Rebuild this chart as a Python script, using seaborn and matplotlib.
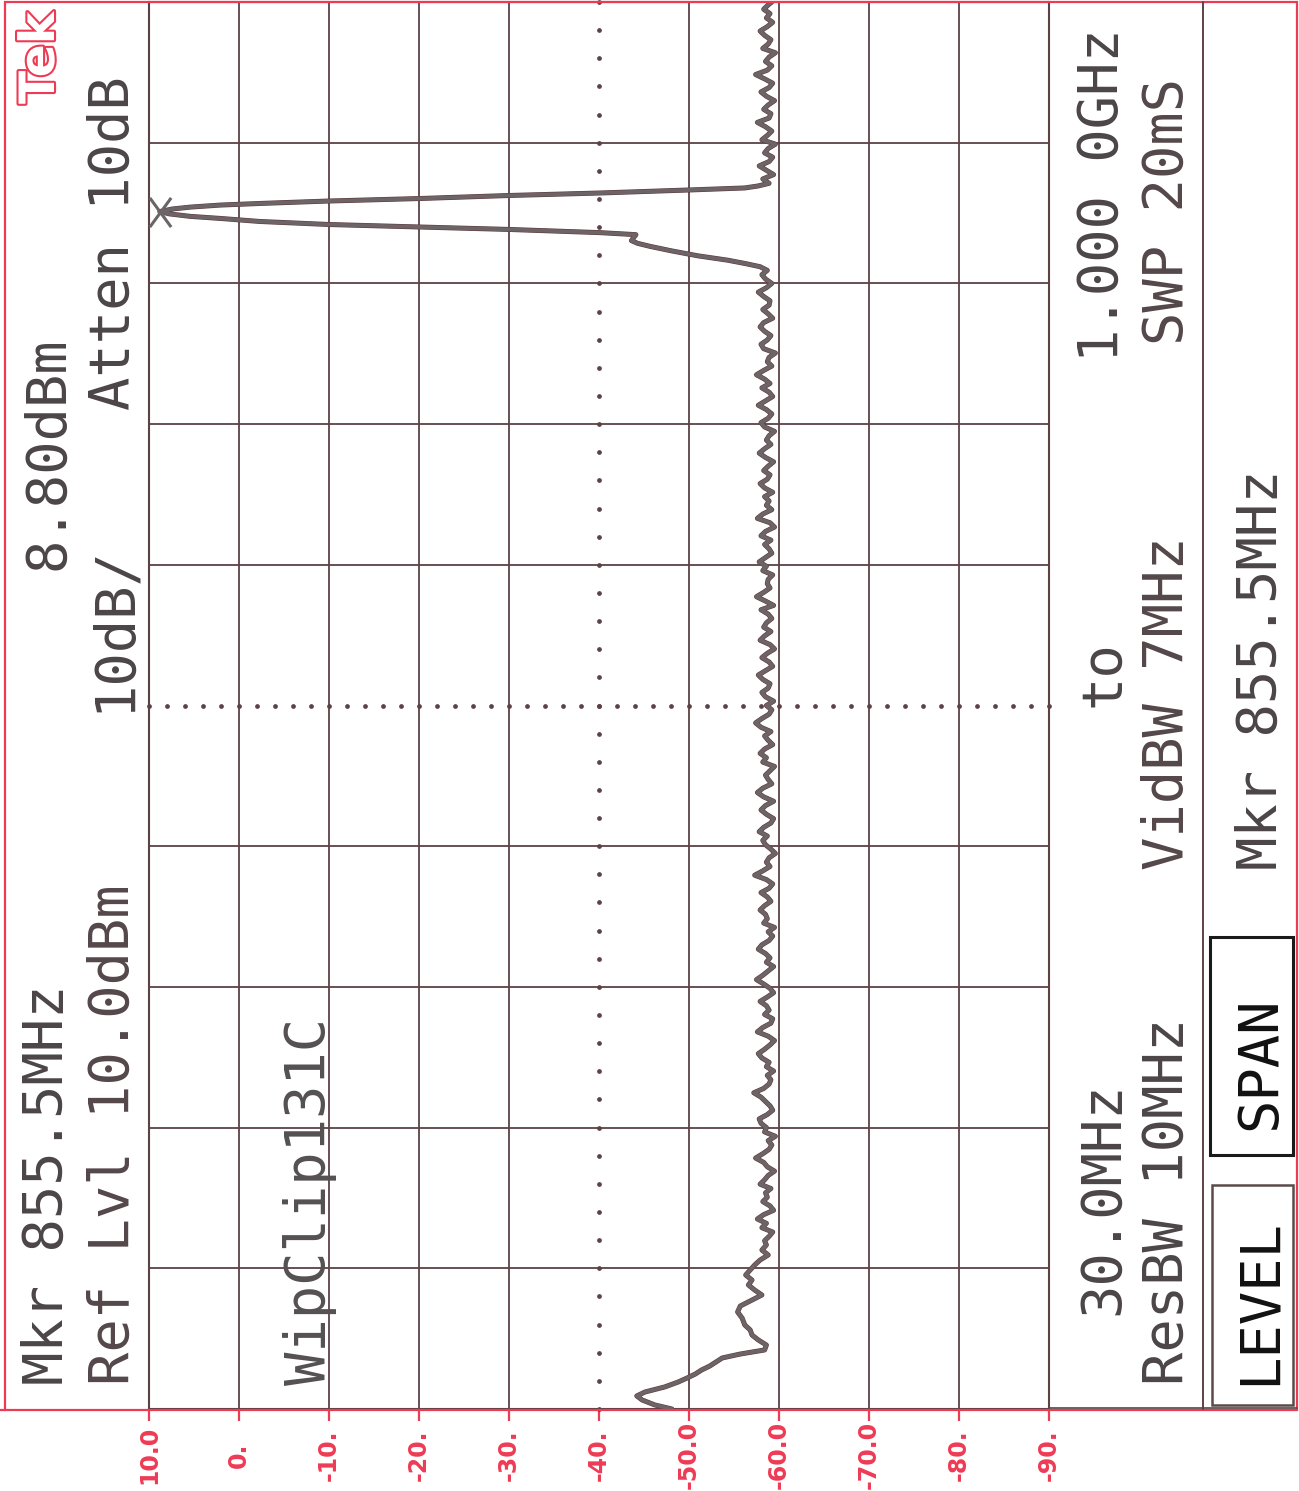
import numpy as np
import pandas as pd
import matplotlib
matplotlib.use("Agg")
import matplotlib.pyplot as plt
import seaborn as sns
from matplotlib.lines import Line2D
from matplotlib.patches import Rectangle
from matplotlib.path import Path
import matplotlib.patheffects as pe

# ---------------- data ----------------
freq_start_mhz = 30.0
freq_stop_mhz = 1000.0
ref_level_dbm = 10.0
bottom_level_dbm = -90.0

amp_ticks = [10, 0, -10, -20, -30, -40, -50, -60, -70, -80, -90]
amp_tick_labels = ["10.0", "0.", "-10.", "-20.", "-30.", "-40.",
                   "-50.0", "-60.0", "-70.0", "-80.", "-90."]

marker_freq_mhz = 855.5
marker_level_dbm = 8.8

# low-frequency roll-off segment
low_freq = [30.0, 32.8, 36.2, 39.0, 41.7, 45.2, 48.6, 51.4, 54.1, 56.9,
            59.6, 62.4, 65.2, 67.9, 70.7, 74.1, 77.6, 81.0, 84.5, 87.9,
            92.7, 96.9, 101.0, 105.1, 108.6, 112.0, 115.5, 118.9, 122.4, 125.8,
            129.3, 132.7, 136.2, 139.6, 143.1]
low_level = [-48.1, -46.2, -44.8, -44.2, -45.1, -47.3, -48.8, -49.8, -50.7, -51.4,
             -52.3, -53.0, -53.7, -55.7, -58.4, -58.6, -57.7, -57.0, -56.8, -56.2,
             -55.9, -55.4, -55.7, -57.0, -58.1, -57.3, -56.6, -57.0, -56.3, -56.8,
             -57.3, -57.9, -58.8, -58.1, -58.6]

# noise floor below the carrier
mid_freq = [146, 149, 152, 155, 158, 161, 164, 167, 170, 173, 176, 179, 182, 185, 188, 191,
            194, 197, 200, 203, 206, 209, 212, 215, 218, 221, 224, 227, 230, 233, 236, 239,
            242, 245, 248, 251, 254, 257, 260, 263, 266, 269, 272, 275, 278, 281, 284, 287,
            290, 293, 296, 299, 302, 305, 308, 311, 314, 317, 320, 323, 326, 329, 332, 335,
            338, 341, 344, 347, 350, 353, 356, 359, 362, 365, 368, 371, 374, 377, 380, 383,
            386, 389, 392, 395, 398, 401, 404, 407, 410, 413, 416, 419, 422, 425, 428, 431,
            434, 437, 440, 443, 446, 449, 452, 455, 458, 461, 464, 467, 470, 473, 476, 479,
            482, 485, 488, 491, 494, 497, 500, 503, 506, 509, 512, 515, 518, 521, 524, 527,
            530, 533, 536, 539, 542, 545, 548, 551, 554, 557, 560, 563, 566, 569, 572, 575,
            578, 581, 584, 587, 590, 593, 596, 599, 602, 605, 608, 611, 614, 617, 620, 623,
            626, 629, 632, 635, 638, 641, 644, 647, 650, 653, 656, 659, 662, 665, 668, 671,
            674, 677, 680, 683, 686, 689, 692, 695, 698, 701, 704, 707, 710, 713, 716, 719,
            722, 725, 728, 731, 734, 737, 740, 743, 746, 749, 752, 755, 758, 761, 764, 767,
            770, 773, 776, 779, 782, 785, 788, 791, 794, 797, 800, 803, 806, 809, 812, 815]
mid_level = [-58.4, -58.9, -59.3, -58.1, -58.6, -57.6, -58.3, -59.4, -59.0, -58.2, -58.7, -58.5, -59.1, -57.9, -58.4, -58.8,
             -59.5, -58.7, -58.3, -57.4, -58.2, -58.9, -59.2, -58.8, -59.6, -58.4, -58.6, -58.0, -57.8, -58.7, -59.3, -59.0,
             -58.5, -58.0, -57.2, -58.3, -58.9, -59.1, -58.7, -59.4, -58.6, -58.9, -58.1, -57.7, -58.4, -59.0, -59.5, -58.8,
             -57.6, -58.2, -59.1, -59.3, -58.4, -58.9, -58.6, -57.9, -58.7, -59.4, -59.0, -58.3, -57.5, -58.2, -58.8, -59.4,
             -58.6, -59.0, -58.5, -57.7, -58.1, -58.9, -59.3, -58.8, -59.5, -58.3, -58.7, -58.5, -57.9, -58.4, -59.1, -58.7,
             -58.0, -58.9, -59.3, -58.6, -57.3, -58.2, -59.0, -58.6, -58.9, -59.6, -59.1, -58.5, -58.2, -58.7, -57.8, -58.3,
             -59.1, -59.4, -58.6, -58.0, -58.5, -59.4, -58.3, -57.6, -58.2, -59.2, -58.8, -58.5, -59.0, -59.5, -58.2, -58.6,
             -57.9, -58.4, -59.3, -58.8, -58.4, -59.1, -58.0, -57.4, -58.1, -58.9, -59.2, -58.6, -59.4, -58.5, -58.1, -58.8,
             -59.0, -58.2, -57.7, -58.5, -59.3, -58.9, -58.1, -58.7, -59.5, -59.0, -57.9, -58.4, -59.1, -58.3, -58.6, -59.2,
             -58.8, -58.0, -59.4, -58.5, -57.5, -58.3, -59.0, -58.7, -58.8, -59.3, -58.2, -58.6, -57.8, -58.5, -59.2, -58.9,
             -58.4, -59.1, -58.0, -58.5, -59.5, -59.0, -57.6, -58.2, -59.2, -58.6, -58.9, -58.4, -59.3, -58.4, -57.9, -58.7,
             -59.0, -58.3, -58.8, -59.4, -58.5, -57.8, -58.4, -59.1, -58.6, -58.9, -59.5, -58.4, -58.0, -58.8, -59.2, -58.6,
             -57.7, -58.5, -59.3, -58.9, -58.1, -59.0, -58.4, -57.5, -58.3, -59.2, -58.7, -58.9, -59.6, -58.3, -58.0, -58.7,
             -59.1, -58.4, -57.9, -58.3, -59.3, -58.8, -58.2, -58.9, -59.0, -58.3, -57.7, -58.6, -59.2, -58.5, -58.1, -58.7]

# carrier at 855.5 MHz
peak_freq = [817.5, 819.5, 822.0, 825.0, 828.5, 831.5, 833.6, 835.5, 839.6, 841.0,
             843.2, 844.9, 846.6, 848.7, 850.8, 852.2, 853.9, 855.5, 857.3, 858.6,
             860.0, 861.1, 862.8, 864.5, 866.6, 868.3, 870.4, 871.8, 873.2]
peak_level = [-57.9, -56.4, -54.3, -51.0, -48.0, -45.7, -44.3, -43.6, -44.1, -40.1,
              -30.0, -20.0, -10.0, -2.3, 2.1, 5.4, 7.7, 8.8, 7.4, 5.4,
              2.1, -2.3, -10.0, -20.0, -30.0, -40.0, -50.0, -56.2, -57.7]

# noise floor above the carrier
high_freq = [875, 878, 881, 884, 887, 890, 893, 896, 899, 902, 905, 908, 911, 914, 917, 920,
             923, 926, 929, 932, 935, 938, 941, 944, 947, 950, 953, 956, 959, 962, 965, 968,
             971, 974, 977, 980, 983, 986, 989, 992, 995, 998, 1000]
high_level = [-58.9, -58.2, -59.4, -58.6, -57.8, -58.9, -59.3, -58.4, -58.8, -59.6, -58.1, -58.7, -59.2, -58.5, -57.6, -58.9,
              -59.1, -58.3, -58.8, -59.5, -58.6, -58.0, -58.9, -59.3, -58.4, -57.4, -58.7, -59.2, -58.5, -58.9, -59.6, -58.2,
              -58.8, -59.1, -58.4, -57.9, -58.7, -59.3, -58.6, -59.0, -58.3, -58.8, -59.2]

trace = pd.DataFrame({
    "freq": low_freq + mid_freq + peak_freq + high_freq,
    "level": low_level + mid_level + peak_level + high_level,
})

# ---------------- styling ----------------
sns.set_theme(style="white")
plt.rcParams['font.family'] = ['DejaVu Sans']

RED = "#ee3b55"
GRID = "#5b4245"
TRACE = "#6c6466"
TXT = "#4b4547"
MONO = "DejaVu Sans Mono"

W, H = 1299, 1491
fig = plt.figure(figsize=(W / 100, H / 100), dpi=100)
fig.patch.set_facecolor("white")


def fx(px):
    return px / W


def fy(py):
    return 1 - py / H


ax = fig.add_axes([fx(149), fy(1409), fx(1049) - fx(149), fy(2) - fy(1409)])
ax.set_facecolor("white")
ax.set_xlim(ref_level_dbm, bottom_level_dbm)
ax.set_ylim(freq_start_mhz, freq_stop_mhz)

# graticule
freq_div = (freq_stop_mhz - freq_start_mhz) / 10
centre_amp = (ref_level_dbm + bottom_level_dbm) / 2
centre_freq = (freq_start_mhz + freq_stop_mhz) / 2
for a in amp_ticks:
    if a != centre_amp:
        ax.axvline(a, color=GRID, lw=1.3, zorder=1)
for k in range(11):
    fq = freq_start_mhz + k * freq_div
    if abs(fq - centre_freq) > 1e-6:
        ax.axhline(fq, color=GRID, lw=1.3, zorder=1)
dots_amp = np.linspace(ref_level_dbm, bottom_level_dbm, 51)
dots_freq = np.linspace(freq_start_mhz, freq_stop_mhz, 51)
ax.plot(dots_amp, np.full_like(dots_amp, centre_freq), ls="none", marker="o",
        ms=2.4, color=GRID, zorder=1, clip_on=False)
ax.plot(np.full_like(dots_freq, centre_amp), dots_freq, ls="none", marker="o",
        ms=2.4, color=GRID, zorder=1, clip_on=False)

# trace
sns.lineplot(data=trace, x="level", y="freq", sort=False, estimator=None,
             color=TRACE, lw=2.8, ax=ax, zorder=3,
             path_effects=[pe.Stroke(linewidth=3.6, foreground="#5e3a3e"), pe.Normal()])

# marker X at the peak
xmark = Path([(-0.73, -1), (0.73, 1), (-0.73, 1), (0.73, -1)],
             [Path.MOVETO, Path.LINETO, Path.MOVETO, Path.LINETO])
ax.plot([marker_level_dbm], [marker_freq_mhz], marker=xmark, ms=21, mew=2.2,
        mec=TRACE, ls="none", zorder=4, clip_on=False)

# axes decoration
for s in ax.spines.values():
    s.set_color(GRID)
    s.set_linewidth(1.5)
ax.set_yticks([])
ax.set_xticks(amp_ticks)
ax.set_xticklabels(amp_tick_labels)
ax.tick_params(axis="x", direction="out", length=8.6, width=1.6, color=RED,
               labelcolor=RED, pad=24.5, labelsize=17, labelrotation=90, bottom=True)
for lbl in ax.get_xticklabels():
    lbl.set_va("center")
    lbl.set_fontweight("bold")
ax.set_xlabel("")
ax.set_ylabel("")

# frame lines outside the graticule
fig.add_artist(Rectangle((fx(5), fy(1410)), fx(1297) - fx(5), fy(2) - fy(1410),
                         transform=fig.transFigure, fill=False, ec=RED, lw=1.6))
fig.add_artist(Line2D([fx(0), fx(5)], [fy(1410), fy(1410)], color=RED, lw=1.6))
fig.add_artist(Line2D([fx(1203), fx(1203)], [fy(2), fy(1409)], color=GRID, lw=1.4))
fig.add_artist(Line2D([fx(1049), fx(1297)], [fy(1408), fy(1408)], color=GRID, lw=1.2))


def vtext(px, py, s, color=TXT, size=40, **kw):
    fig.text(fx(px), fy(py), s, rotation=90, ha="center", va="bottom",
             fontsize=size, family=MONO, color=color, **kw)


# Tek logo
fig.text(fx(40), fy(104), "Tek", rotation=90, ha="center", va="bottom",
         fontsize=35, fontweight="bold", color="white",
         path_effects=[pe.withStroke(linewidth=3, foreground=RED)])

# header text
vtext(48, 1385, "Mkr 855.5MHz")
vtext(48, 570, "8.80dBm")
vtext(114, 1385, "Ref Lvl 10.0dBm", color="#54474a")
vtext(114, 712, "10dB/")
vtext(114, 410, "Atten 10dB")
vtext(310, 1385, "WipClip131C", color="#555052")

# footer text
vtext(1103, 1315, "30.0MHz")
vtext(1103, 707, "to")
vtext(1103, 362, "1.000 0GHz")
vtext(1168, 1385, "ResBW 10MHz")
vtext(1168, 870, "VidBW 7MHz", color="#54474a")
vtext(1168, 345, "SWP 20mS", color="#54474a")
vtext(1262, 870, "Mkr 855.5MHz")
vtext(1260, 1385, "LEVEL", color="#111111")
vtext(1260, 1130, "SPAN", color="#111111")

fig.add_artist(Rectangle((fx(1212), fy(1405)), fx(1293) - fx(1212), fy(1185) - fy(1405),
                         transform=fig.transFigure, fill=False, ec="#5a4a4c", lw=1.8))
fig.add_artist(Rectangle((fx(1210), fy(1155)), fx(1293) - fx(1210), fy(937) - fy(1155),
                         transform=fig.transFigure, fill=False, ec="#1a1a1a", lw=2.2))

fig.savefig("out.png", dpi=100, facecolor="white")
